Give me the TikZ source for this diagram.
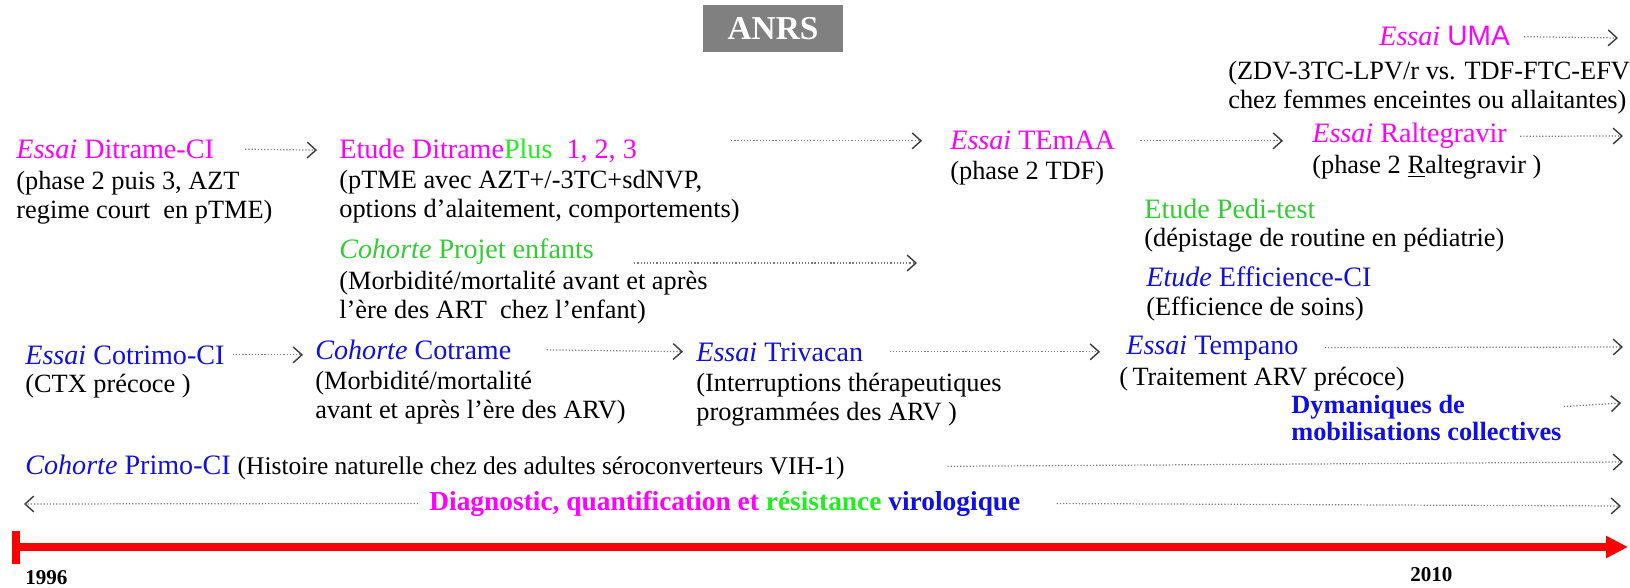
\documentclass[tikz,border=0pt]{standalone}
\usepackage{fontspec}
\setmainfont{Liberation Serif}
\newfontfamily\arialfont{Liberation Sans}
\usetikzlibrary{arrows.meta,positioning}

\definecolor{anrsmag}{RGB}{255,0,255}
\definecolor{anrslime}{RGB}{30,240,30}
\definecolor{anrsgreen}{RGB}{51,204,51}
\definecolor{anrsblue}{RGB}{15,15,230}
\definecolor{anrsred}{RGB}{255,0,0}
\definecolor{boxgray}{RGB}{128,128,128}
\definecolor{dotgray}{RGB}{120,120,120}
\definecolor{tipgray}{RGB}{60,60,60}

\tikzset{
  head/.style={anchor=base west,inner sep=0pt,font=\fontsize{16}{17}\selectfont},
  desc/.style={anchor=base west,inner sep=0pt,align=left,font=\fontsize{15}{17}\selectfont},
  dotarrow/.style={draw=dotgray,line width=0.7pt,dash pattern=on 0.7pt off 1.1pt,
    -{Straight Barb[length=5pt,width=9pt,line width=0.8pt,color=tipgray]}},
  timeline/.style={draw=anrsred,line width=4.5pt,
    {Bar[width=0.66cm]}-{Triangle[length=0.44cm,width=0.42cm]}},
  year/.style={anchor=base west,inner sep=0pt,font=\fontsize{12}{12}\bfseries}
}

\begin{document}
\begin{tikzpicture}[x=0.02cm,y=-0.02cm]
  \useasboundingbox (0,0) rectangle (1630,588);

  \node[fill=boxgray,text=white,minimum width=2.8cm,minimum height=0.94cm,
        font=\fontsize{19}{19}\bfseries] (anrs) at (773,28.5) {ANRS};

  % top rows (two-line descriptions are placed by their last baseline)
  \node[head,text=anrsmag] (uma) at (1379,46) {\textit{Essai} {\arialfont UMA}};
  \node[desc] (uma-d) at (1228,109) {(ZDV-3TC-LPV/r vs. TDF-FTC-EFV\\chez femmes enceintes ou allaitantes)};

  \node[head,text=anrsmag] (ditrameci) at (16,158) {\textit{Essai} Ditrame-CI};
  \node[desc] (ditrameci-d) at ([yshift=-1.22cm]ditrameci.base west) {(phase 2 puis 3, AZT\\regime court\ \ en pTME)};

  \node[head,text=anrsmag] (ditrameplus) at (339,158) {Etude Ditrame{\color{anrslime}Plus}\ \ 1, 2, 3};
  \node[desc] (ditrameplus-d) at ([yshift=-1.2cm]ditrameplus.base west) {(pTME avec AZT+/-3TC+sdNVP,\\options d’alaitement, comportements)};

  \node[head,text=anrsmag] (temaa) at (950,150) {\textit{Essai} TEmAA};
  \node[desc] (temaa-d) at ([yshift=-0.6cm]temaa.base west) {(phase 2 TDF)};

  \node[head,text=anrsmag] (ralte) at (1312,143) {\textit{Essai}\ Raltegravir};
  \node[desc] (ralte-d) at ([yshift=-0.62cm]ralte.base west) {(phase 2 \underline{R}altegravir )};

  \node[head,text=anrsgreen] (pedi) at (1144,218) {Etude Pedi-test};
  \node[desc] (pedi-d) at ([yshift=-0.58cm]pedi.base west) {(dépistage de routine en pédiatrie)};

  \node[head,text=anrsgreen] (projet) at (339,258) {\textit{Cohorte} Projet enfants};
  \node[desc] (projet-d) at ([yshift=-1.22cm]projet.base west) {(Morbidité/mortalité avant et après\\l’ère des ART\ \ chez l’enfant)};

  \node[head,text=anrsblue] (effic) at (1146,286) {\textit{Etude} Efficience-CI};
  \node[desc] (effic-d) at ([yshift=-0.6cm]effic.base west) {(Efficience de soins)};

  % lower rows
  \node[head,text=anrsblue] (cotrimo) at (25,364) {\textit{Essai} Cotrimo-CI};
  \node[desc] (cotrimo-d) at ([yshift=-0.58cm]cotrimo.base west) {(CTX précoce )};

  \node[head,text=anrsblue] (cotrame) at (315,359) {\textit{Cohorte} Cotrame};
  \node[desc] (cotrame-d) at ([yshift=-1.2cm]cotrame.base west) {(Morbidité/mortalité\\avant et après l’ère des ARV)};

  \node[head,text=anrsblue] (trivacan) at (696,361) {\textit{Essai} Trivacan};
  \node[desc] (trivacan-d) at ([yshift=-1.2cm]trivacan.base west) {(Interruptions thérapeutiques\\programmées des ARV )};

  \node[head,text=anrsblue] (tempano) at (1126,354) {\textit{Essai} Tempano};
  \node[desc] (tempano-d) at (1119,385) {(\,Traitement ARV précoce)};

  \node[head,text=anrsblue,font=\fontsize{15}{17}\bfseries] (dyn) at (1291,413) {Dymaniques de};
  \node[head,text=anrsblue,font=\fontsize{15}{17}\bfseries] (dyn-2) at ([yshift=-0.56cm]dyn.base west) {mobilisations collectives};

  \node[head] (primo) at (25,474) {{\color{anrsblue}\textit{Cohorte} Primo-CI} {\fontsize{14.5}{17}\selectfont(Histoire naturelle chez des adultes séroconverteurs VIH-1)}};

  \node[head,font=\fontsize{15.6}{17}\bfseries] (diag) at (429,510) {{\color{anrsmag}Diagnostic, quantification et} {\color{anrslime}résistance} {\color{anrsblue}virologique}};

  % free ends
  \coordinate (uma-end) at (1618,38);
  \coordinate (ralte-end) at (1623,136);
  \coordinate (projet-end) at (917,263);
  \coordinate (tempano-end) at (1623,347);
  \coordinate (dyn-end) at (1621,403);
  \coordinate (primo-end) at (1623,462);
  \coordinate (diag-left) at (24,504);
  \coordinate (diag-right) at (1621,506);

  \draw[dotarrow,shorten <=0.62cm,shorten >=0.44cm] (ditrameci.east) -- (ditrameplus.west);
  \draw[dotarrow,shorten <=1.88cm,shorten >=0.56cm] (ditrameplus.east |- temaa.west) -- (temaa.west);
  \draw[dotarrow,shorten <=0.5cm,shorten >=0.58cm] (temaa.east) -- (temaa.east -| ralte.west);
  \draw[dotarrow,shorten <=0.16cm,shorten >=0.24cm] (cotrimo.east) -- (cotrimo.east -| cotrame.west);
  \draw[dotarrow,shorten <=0.7cm,shorten >=0.26cm] (cotrame.east) -- (trivacan.west);
  \draw[dotarrow,shorten <=0.52cm,shorten >=0.52cm] (trivacan.east) -- (trivacan.east -| tempano.west);

  \draw[dotarrow,shorten <=0.28cm] (uma.east) -- (uma-end);
  \draw[dotarrow,shorten <=0.26cm] (ralte.east) -- (ralte-end);
  \draw[dotarrow,shorten <=0.8cm] (projet.east |- projet-end) -- (projet-end);
  \draw[dotarrow,shorten <=0.52cm] (tempano.east) -- (tempano-end);
  \draw[dotarrow,shorten <=0.04cm] (dyn-2.east |- dyn.east) -- (dyn-end);
  \draw[dotarrow,shorten <=2.05cm] (primo.east) -- (primo-end);
  \draw[dotarrow,shorten <=0.22cm] (diag.west) -- (diag-left);
  \draw[dotarrow,shorten <=0.72cm] (diag.east) -- (diag-right);

  % time axis
  \coordinate (t0) at (12,547);
  \coordinate (t1) at (1628,547);
  \draw[timeline] (t0) -- (t1);
  \node[year] (y1996) at (25,584) {1996};
  \node[year] (y2010) at (1410,581) {2010};
\end{tikzpicture}
\end{document}
